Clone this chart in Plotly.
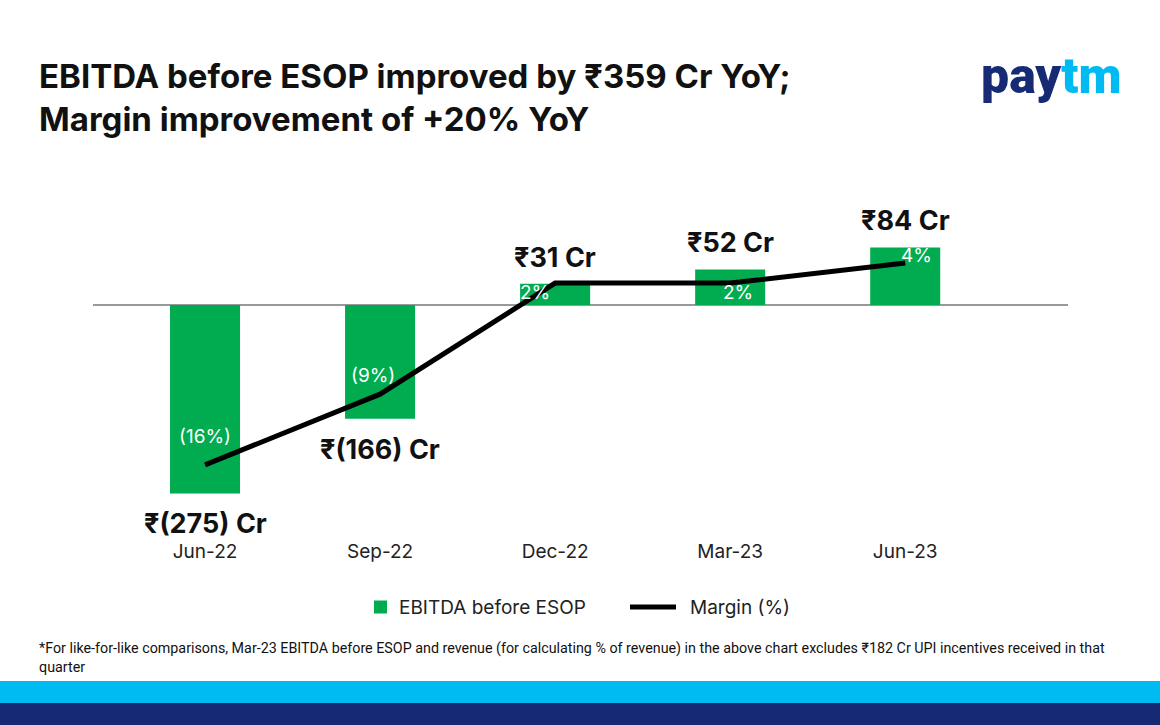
import plotly.graph_objects as go

quarters = ["Jun-22", "Sep-22", "Dec-22", "Mar-23", "Jun-23"]
ebitda_cr = [-275, -166, 31, 52, 84]
margin_pct = [-16, -9, 2, 2, 4]
series_names = ["EBITDA before ESOP", "Margin (%)"]

GREEN = "#00AC4F"
NAVY = "#172B75"
SKY = "#00BAF2"
INK = "#111111"
FONT = "Inter, Noto Sans, sans-serif"

def fmt_cr(v):
    return f"₹({abs(v)}) Cr" if v < 0 else f"₹{v} Cr"

def fmt_pct(v):
    return f"({abs(v)}%)" if v < 0 else f"{v}%"

# plot-area pixel box
L, R, T, B = 93, 1068, 150, 538
def px_to_paper_x(px):
    return (px - L) / (R - L)
def px_to_paper_y(py):
    return (B - py) / (B - T)

fig = go.Figure()
fig.add_trace(go.Bar(
    x=quarters, y=ebitda_cr, name=series_names[0],
    marker=dict(color=GREEN, line=dict(width=0)), width=0.4,
    yaxis="y", hoverinfo="skip",
))
fig.add_trace(go.Scatter(
    x=quarters, y=margin_pct, name=series_names[1], mode="lines",
    line=dict(color="#000000", width=5), yaxis="y2", hoverinfo="skip",
))

annotations = []
for q, v in zip(quarters, ebitda_cr):
    annotations.append(dict(
        x=q, y=v, xref="x", yref="y", text=f"<b>{fmt_cr(v)}</b>", showarrow=False,
        yanchor="bottom" if v >= 0 else "top", yshift=8 if v >= 0 else -12,
        font=dict(family=FONT, size=27, color=INK),
    ))

label_xshift = [0, -7, -20, 8, 11]
label_yshift = [28, 19, -9, -9, 7]
for q, m, dx, dy in zip(quarters, margin_pct, label_xshift, label_yshift):
    annotations.append(dict(
        x=q, y=m, xref="x", yref="y2", text=fmt_pct(m), showarrow=False,
        xshift=dx, yshift=dy,
        font=dict(family=FONT, size=19, color="#FFFFFF"),
    ))

# title
annotations.append(dict(
    x=px_to_paper_x(37), y=px_to_paper_y(97), xref="paper", yref="paper", showarrow=False,
    xanchor="left", yanchor="middle", align="left",
    text="<b>EBITDA before ESOP improved by ₹359 Cr YoY;<br>Margin improvement of +20% YoY</b>",
    font=dict(family=FONT, size=33, color=INK),
))
# logo
annotations.append(dict(
    x=px_to_paper_x(1051), y=px_to_paper_y(76), xref="paper", yref="paper", showarrow=False,
    xanchor="center", yanchor="middle",
    text=f"<b><span style='color:{NAVY}'>pay</span><span style='color:{SKY}'>tm</span></b>",
    font=dict(family="Roboto Black, Roboto, Lato, sans-serif", size=50, weight=900),
))
# footnote
annotations.append(dict(
    x=px_to_paper_x(37), y=px_to_paper_y(657), xref="paper", yref="paper", showarrow=False,
    xanchor="left", yanchor="middle", align="left",
    text="*For like-for-like comparisons, Mar-23 EBITDA before ESOP and revenue (for calculating % of revenue) in the above chart excludes ₹182 Cr UPI incentives received in that<br>quarter",
    font=dict(family="Roboto, sans-serif", size=14.3, color=INK),
))

# legend (drawn manually for exact spacing)
LEG_Y = px_to_paper_y(607)
annotations.append(dict(
    x=px_to_paper_x(397), y=LEG_Y, xref="paper", yref="paper", showarrow=False,
    xanchor="left", yanchor="middle", text=series_names[0],
    font=dict(family=FONT, size=19, color="#222222"),
))
annotations.append(dict(
    x=px_to_paper_x(688), y=LEG_Y, xref="paper", yref="paper", showarrow=False,
    xanchor="left", yanchor="middle", text=series_names[1],
    font=dict(family=FONT, size=19, color="#222222"),
))

shapes = [
    dict(type="rect", xref="paper", yref="paper",
         x0=px_to_paper_x(374), x1=px_to_paper_x(387),
         y0=px_to_paper_y(600.5), y1=px_to_paper_y(613.5),
         fillcolor=GREEN, line=dict(width=0)),
    dict(type="line", xref="paper", yref="paper",
         x0=px_to_paper_x(630), x1=px_to_paper_x(676),
         y0=LEG_Y, y1=LEG_Y, line=dict(color="#000000", width=5)),
    dict(type="rect", xref="paper", yref="paper",
         x0=px_to_paper_x(-20), x1=px_to_paper_x(1180),
         y0=px_to_paper_y(681), y1=px_to_paper_y(703),
         fillcolor=SKY, line=dict(width=0), layer="above"),
    dict(type="rect", xref="paper", yref="paper",
         x0=px_to_paper_x(-20), x1=px_to_paper_x(1180),
         y0=px_to_paper_y(703), y1=px_to_paper_y(740),
         fillcolor="#162A74", line=dict(width=0), layer="above"),
]

fig.update_layout(
    width=1160, height=725,
    margin=dict(l=L, r=1160 - R, t=T, b=725 - B),
    paper_bgcolor="white", plot_bgcolor="white",
    showlegend=False,
    xaxis=dict(range=[-0.64, 4.93], showgrid=False, showline=False, ticks="",
               tickfont=dict(family=FONT, size=19, color="#222222"),
               fixedrange=True),
    yaxis=dict(range=[-340.1, 226.3], showgrid=False, showticklabels=False,
               zeroline=True, zerolinecolor="#999999", zerolinewidth=1.5, showline=False),
    yaxis2=dict(range=[-23.24, 15.18], overlaying="y", side="right", showgrid=False,
                showticklabels=False, zeroline=False, showline=False),
    annotations=annotations,
    shapes=shapes,
)

fig.write_html("out.html", config={"displayModeBar": False},
               post_script="document.body.style.margin='0';document.body.style.overflow='hidden';")
